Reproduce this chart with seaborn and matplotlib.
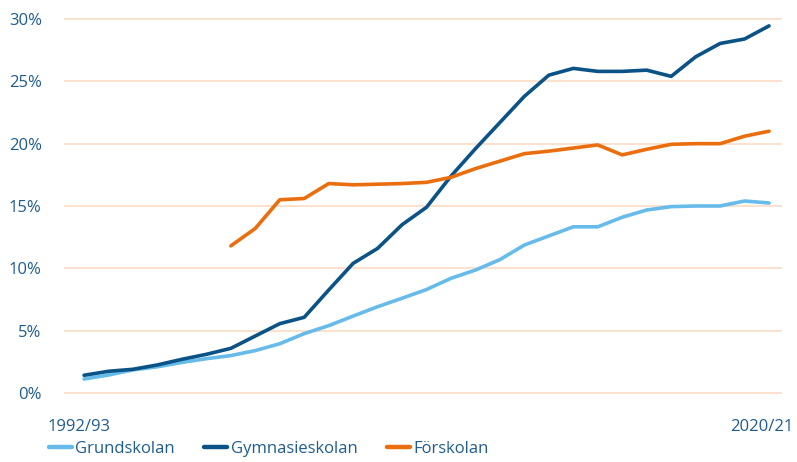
import numpy as np
import pandas as pd
import matplotlib
matplotlib.use("Agg")
import matplotlib.pyplot as plt
import matplotlib.transforms as mtransforms
import seaborn as sns
from matplotlib.lines import Line2D

years = [f"{y}/{str(y + 1)[-2:]}" for y in range(1992, 2021)]

grundskolan = [1.12, 1.44, 1.85, 2.1, 2.45, 2.75, 3.0, 3.4, 3.95, 4.76, 5.4, 6.17, 6.92,
               7.6, 8.3, 9.2, 9.86, 10.7, 11.87, 12.6, 13.33, 13.33, 14.1, 14.68, 14.95,
               15.0, 15.0, 15.4, 15.24]
gymnasieskolan = [1.42, 1.74, 1.9, 2.25, 2.7, 3.1, 3.58, 4.57, 5.56, 6.07, 8.26, 10.4, 11.6,
                  13.5, 14.9, 17.4, 19.6, 21.7, 23.8, 25.5, 26.04, 25.8, 25.8, 25.9, 25.4,
                  26.97, 28.04, 28.4, 29.45]
forskolan = [np.nan, np.nan, np.nan, np.nan, np.nan, np.nan, 11.8, 13.2, 15.5, 15.6, 16.8,
             16.7, 16.75, 16.8, 16.9, 17.3, 18.0, 18.6, 19.2, 19.4, 19.65, 19.9, 19.1, 19.55,
             19.95, 20.0, 20.0, 20.6, 21.0]

series_names = ["Grundskolan", "Gymnasieskolan", "Förskolan"]
colors = ["#66BBEA", "#0B5286", "#EA6E0E"]
yticks = [0, 5, 10, 15, 20, 25, 30]
ytick_labels = ["0%", "5%", "10%", "15%", "20%", "25%", "30%"]

rows = []
for name, vals in zip(series_names, [grundskolan, gymnasieskolan, forskolan]):
    for i, v in enumerate(vals):
        rows.append({"idx": i, "year": years[i], "value": v, "serie": name})
df = pd.DataFrame(rows).dropna()

sns.set_theme(style="white")
plt.rcParams["font.family"] = ["Open Sans", "DejaVu Sans"]

fig = plt.figure(figsize=(7.97, 4.62), dpi=100)
ax = fig.add_axes([64 / 797, 1 - 396.7 / 462, (782 - 64) / 797, (396.7 - 15.3) / 462])

sns.lineplot(data=df, x="idx", y="value", hue="serie", hue_order=series_names,
             palette=colors, linewidth=2.6, estimator=None, sort=False, ax=ax,
             legend=False)

ax.set_xlim(-0.82, 28.53)
ax.set_ylim(-0.3, 30.3)
ax.set_yticks(yticks)
ax.set_yticklabels(ytick_labels)
ax.set_xticks([0, 28])
ax.set_xticklabels([years[0], years[-1]])
ax.set_xlabel("")
ax.set_ylabel("")
for s in ax.spines.values():
    s.set_visible(False)
ax.yaxis.grid(True, color="#FCDCC6", linewidth=1.2)
ax.set_axisbelow(True)
ax.tick_params(axis="y", length=0, pad=16, labelsize=12, labelcolor="#1F5C8E")
ax.tick_params(axis="x", length=0, pad=16, labelsize=12, labelcolor="#1F5C8E")

xl = ax.get_xticklabels()
xl[0].set_transform(xl[0].get_transform() + mtransforms.ScaledTranslation(-5 / 100, 0, fig.dpi_scale_trans))
xl[1].set_transform(xl[1].get_transform() + mtransforms.ScaledTranslation(-7 / 100, 0, fig.dpi_scale_trans))

handles = [Line2D([0], [0], color=c, lw=3.2) for c in colors]
leg = fig.legend(handles, series_names, loc="lower left", bbox_to_anchor=(42 / 797, -0.004),
                 ncol=3, frameon=False, fontsize=12, handlelength=1.4,
                 handletextpad=0.2, columnspacing=1.75, borderaxespad=0)
for t in leg.get_texts():
    t.set_color("#1F5C8E")

fig.savefig("out.png", dpi=100)
